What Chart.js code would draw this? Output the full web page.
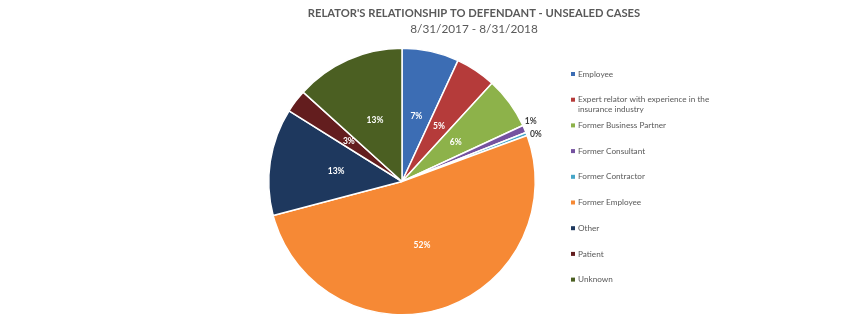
<!DOCTYPE html>
<html>
<head>
<meta charset="utf-8">
<script src="https://cdn.jsdelivr.net/npm/chart.js@4"></script>
<style>
  html, body { margin: 0; padding: 0; background: #ffffff; }
  #wrap { position: relative; width: 868px; height: 325px; }
</style>
</head>
<body>
<div id="wrap"><canvas id="c" width="868" height="325"></canvas></div>
<script>
const categories = [
  "Employee",
  "Expert relator with experience in the insurance industry",
  "Former Business Partner",
  "Former Consultant",
  "Former Contractor",
  "Former Employee",
  "Other",
  "Patient",
  "Unknown"
];
const shareValues = [6.9, 4.9, 6.3, 0.9, 0.4, 51.5, 13.0, 2.8, 13.3];
const sliceColors = ["#3C6DB4", "#B53B3A", "#8DB24A", "#7552A0", "#45A6C8", "#F68935", "#1E385E", "#631D1E", "#4B5F22"];
const titleText = "RELATOR'S RELATIONSHIP TO DEFENDANT - UNSEALED CASES";
const subtitleText = "8/31/2017 - 8/31/2018";

const FONT = "Lato, 'Open Sans', sans-serif";

const titlePlugin = {
  id: 'titleDraw',
  afterDraw(chart) {
    const ctx = chart.ctx;
    ctx.save();
    ctx.textAlign = 'center';
    ctx.textBaseline = 'middle';
    ctx.fillStyle = '#595959';
    ctx.font = "bold 11.2px " + FONT;
    ctx.fillText(titleText, 474, 13);
    ctx.font = "11.8px " + FONT;
    ctx.fillText(subtitleText, 474, 29);
    ctx.restore();
  }
};

const labelPlugin = {
  id: 'sliceLabels',
  afterDatasetsDraw(chart) {
    const ctx = chart.ctx;
    const meta = chart.getDatasetMeta(0);
    const data = chart.data.datasets[0].data;
    const total = data.reduce((a, b) => a + b, 0);
    ctx.save();
    ctx.textAlign = 'center';
    ctx.textBaseline = 'middle';
    ctx.font = "bold 8.5px " + FONT;
    const items = [];
    meta.data.forEach((arc, i) => {
      const p = arc.getProps(['x', 'y', 'startAngle', 'endAngle', 'outerRadius'], true);
      const mid = (p.startAngle + p.endAngle) / 2;
      const pct = Math.round(data[i] / total * 100);
      const outside = data[i] / total < 0.02;
      const r = outside ? p.outerRadius + 10 : p.outerRadius * 0.5;
      items.push({
        text: pct + '%',
        x: p.x + Math.cos(mid) * r,
        y: p.y + Math.sin(mid) * r,
        outside,
        color: outside ? '#404040' : '#ffffff'
      });
    });
    // simple collision avoidance for outside labels
    const outs = items.filter(it => it.outside);
    for (let k = 1; k < outs.length; k++) {
      const a = outs[k - 1], b = outs[k];
      const gap = 13 - Math.abs(b.y - a.y);
      if (gap > 0) { a.y -= gap / 2; b.y += gap / 2; a.x -= 3; }
    }
    items.forEach(it => {
      ctx.fillStyle = it.color;
      ctx.fillText(it.text, it.x, it.y);
    });
    ctx.restore();
  }
};

const legendPlugin = {
  id: 'sideLegend',
  afterDraw(chart) {
    const ctx = chart.ctx;
    ctx.save();
    ctx.font = "8.2px " + FONT;
    ctx.textBaseline = 'middle';
    ctx.textAlign = 'left';
    const x0 = 571, tx = 578, y0 = 74, step = 25.7, maxW = 132;
    categories.forEach((name, i) => {
      const y = y0 + i * step;
      ctx.fillStyle = sliceColors[i];
      ctx.fillRect(x0, y - 2, 4, 4);
      ctx.fillStyle = '#595959';
      const words = name.split(' ');
      const lines = [];
      let cur = '';
      words.forEach(w => {
        const t = cur ? cur + ' ' + w : w;
        if (ctx.measureText(t).width > maxW && cur) { lines.push(cur); cur = w; }
        else cur = t;
      });
      lines.push(cur);
      lines.forEach((ln, k) => ctx.fillText(ln, tx, y + k * 10));
    });
    ctx.restore();
  }
};

new Chart(document.getElementById('c'), {
  type: 'pie',
  data: {
    labels: categories,
    datasets: [{
      data: shareValues,
      backgroundColor: sliceColors,
      borderColor: '#ffffff',
      borderWidth: 1.5
    }]
  },
  options: {
    responsive: false,
    animation: false,
    layout: { padding: { left: 268, right: 332, top: 47, bottom: 9 } },
    plugins: {
      legend: { display: false },
      tooltip: { enabled: false },
      title: { display: false }
    }
  },
  plugins: [titlePlugin, labelPlugin, legendPlugin]
});
</script>
</body>
</html>
